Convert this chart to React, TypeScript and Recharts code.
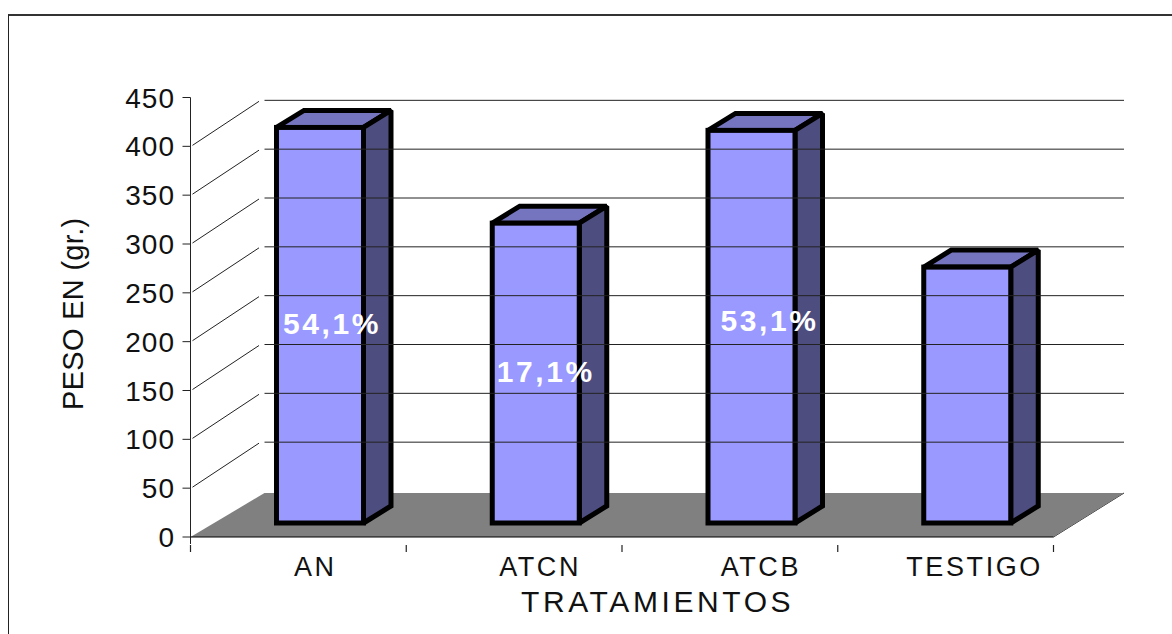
import React from 'react';
import { BarChart, Bar, XAxis, YAxis, LabelList, ReferenceArea } from 'recharts';

const tratamientos = ['AN', 'ATCN', 'ATCB', 'TESTIGO'];
const pesos = [405, 307, 402, 262];
const ganancias = ['54,1%', '17,1%', '53,1%', ''];
const yTicks = [0, 50, 100, 150, 200, 250, 300, 350, 400, 450];

// nudges for the hand-placed text, same order as tratamientos
const categoryLabelShift = [17, 26, 31, 29];
const gainLabelShift = [
  [12, -2],
  [10, -2],
  [18, -7],
  [0, 0],
];

const chartData = tratamientos.map((tratamiento, i) => ({
  tratamiento,
  peso: pesos[i],
  ganancia: ganancias[i],
}));

const FONT = '"Liberation Sans", Arial, sans-serif';
const LINE = '#222';
const WIDTH = 1172;
const HEIGHT = 634;
const AXIS_X = 190.5;
const AXIS_END = 1053.5;
const BAND = (AXIS_END - AXIS_X) / tratamientos.length;

// how far the back wall sits behind the front axis plane
const WALL_DX = 74;
const WALL_DY = 46;
const WALL_END = 1124;

// column depth and where it stands on the floor
const DEPTH_X = 27.5;
const DEPTH_Y = 17;
const COLUMN_DX = 22;
const COLUMN_DY = -14;

const Column3D = ({ x, y, width, height }: any) => {
  const left = x + COLUMN_DX;
  const right = left + width;
  const top = y + COLUMN_DY;
  const bottom = top + height;
  const common = { stroke: '#000', strokeWidth: 5, strokeLinejoin: 'miter' as const, strokeMiterlimit: 1.5 };
  return (
    <g>
      <polygon
        points={`${left},${top} ${left + DEPTH_X},${top - DEPTH_Y} ${right + DEPTH_X},${top - DEPTH_Y} ${right},${top}`}
        fill="#7575BF"
        {...common}
      />
      <polygon
        points={`${right},${top} ${right + DEPTH_X},${top - DEPTH_Y} ${right + DEPTH_X},${bottom - DEPTH_Y} ${right},${bottom}`}
        fill="#4D4D7F"
        {...common}
      />
      <rect x={left} y={top} width={width} height={height} fill="#9999FF" {...common} strokeMiterlimit={4} />
    </g>
  );
};

const Floor = ({ x, y, width, height }: any) => (
  <polygon
    points={`${x},${y + height} ${x + WALL_DX},${y} ${WALL_END},${y} ${x + width},${y + height}`}
    fill="#808080"
  />
);

// value label, tick mark, wall diagonal and wall gridline for one y value
const YTick = ({ y, payload }: any) => {
  const hasWall = payload.value > 0 && payload.value < 450;
  return (
    <g>
      <line x1={AXIS_X - 8} x2={AXIS_X} y1={y} y2={y} stroke={LINE} strokeWidth={1} />
      {hasWall && (
        <>
          <line x1={AXIS_X + 2} y1={y - 1} x2={AXIS_X + 68.5} y2={y - WALL_DY + 1} stroke={LINE} strokeWidth={1} />
          <line x1={AXIS_X + WALL_DX} x2={WALL_END} y1={y - WALL_DY} y2={y - WALL_DY} stroke={LINE} strokeWidth={1} />
        </>
      )}
      <text
        x={175}
        y={y + 10}
        textAnchor="end"
        fontFamily={FONT}
        fontSize={28}
        letterSpacing={1}
        fill="#111"
      >
        {payload.value}
      </text>
    </g>
  );
};

// ticks sit on the band edges, the name is set off to the right of the band centre
const XTick = ({ x, y, payload, index }: any) => {
  const edge = x - BAND / 2;
  return (
    <g>
      <line x1={edge} x2={edge} y1={y} y2={y + 7} stroke={LINE} strokeWidth={1.2} />
      {index === tratamientos.length - 1 && (
        <line x1={edge + BAND} x2={edge + BAND} y1={y} y2={y + 7} stroke={LINE} strokeWidth={1.2} />
      )}
      <text
        x={x + categoryLabelShift[index]}
        y={576}
        textAnchor="middle"
        fontFamily={FONT}
        fontSize={27}
        letterSpacing={2.6}
        fill="#111"
      >
        {payload.value}
      </text>
    </g>
  );
};

const GainLabel = ({ x, y, width, height, index, value }: any) => {
  if (!value) return null;
  const [dx, dy] = gainLabelShift[index];
  return (
    <text
      x={x + COLUMN_DX + width / 2 + dx}
      y={y + COLUMN_DY + height / 2 + 11 + dy}
      textAnchor="middle"
      fontFamily={FONT}
      fontSize={30}
      fontWeight="bold"
      letterSpacing={2.6}
      fill="#fff"
    >
      {value}
    </text>
  );
};

export default function App() {
  return (
    <div style={{ position: 'absolute', left: 0, top: 0, width: WIDTH, height: HEIGHT, overflow: 'hidden', background: '#fff' }}>
      <div
        style={{
          position: 'absolute',
          left: 8,
          top: 14,
          width: WIDTH,
          height: HEIGHT,
          borderTop: '2px solid #333',
          borderLeft: '1.5px solid #222',
        }}
      />
      <BarChart
        width={WIDTH}
        height={HEIGHT}
        data={chartData}
        barSize={87}
        margin={{ top: 97.5, right: WIDTH - AXIS_END, bottom: 57, left: AXIS_X - 60 }}
        style={{ position: 'absolute', left: 0, top: 0 }}
      >
        <ReferenceArea y1={0} y2={45} shape={<Floor />} ifOverflow="visible" />
        <YAxis
          type="number"
          width={60}
          domain={[0, 450]}
          ticks={yTicks}
          interval={0}
          tickLine={false}
          axisLine={{ stroke: LINE, strokeWidth: 1 }}
          tick={<YTick />}
        />
        <XAxis
          dataKey="tratamiento"
          height={40}
          interval={0}
          tickLine={false}
          axisLine={{ stroke: '#000', strokeWidth: 1.2 }}
          tick={<XTick />}
        />
        <Bar dataKey="peso" isAnimationActive={false} shape={<Column3D />}>
          <LabelList dataKey="ganancia" content={<GainLabel />} />
        </Bar>
        <line x1={AXIS_END} y1={537} x2={WALL_END} y2={493} stroke={LINE} strokeWidth={1} />
        <line x1={AXIS_X} x2={AXIS_X} y1={537} y2={544} stroke={LINE} strokeWidth={1} />
        <text
          x={521}
          y={612}
          fontFamily={FONT}
          fontSize={30}
          letterSpacing={3.6}
          fill="#111"
        >
          TRATAMIENTOS
        </text>
        <text
          x={0}
          y={0}
          transform="translate(83 410) rotate(-90)"
          fontFamily={FONT}
          fontSize={29}
          letterSpacing={0.3}
          fill="#111"
        >
          PESO EN (gr.)
        </text>
      </BarChart>
    </div>
  );
}
